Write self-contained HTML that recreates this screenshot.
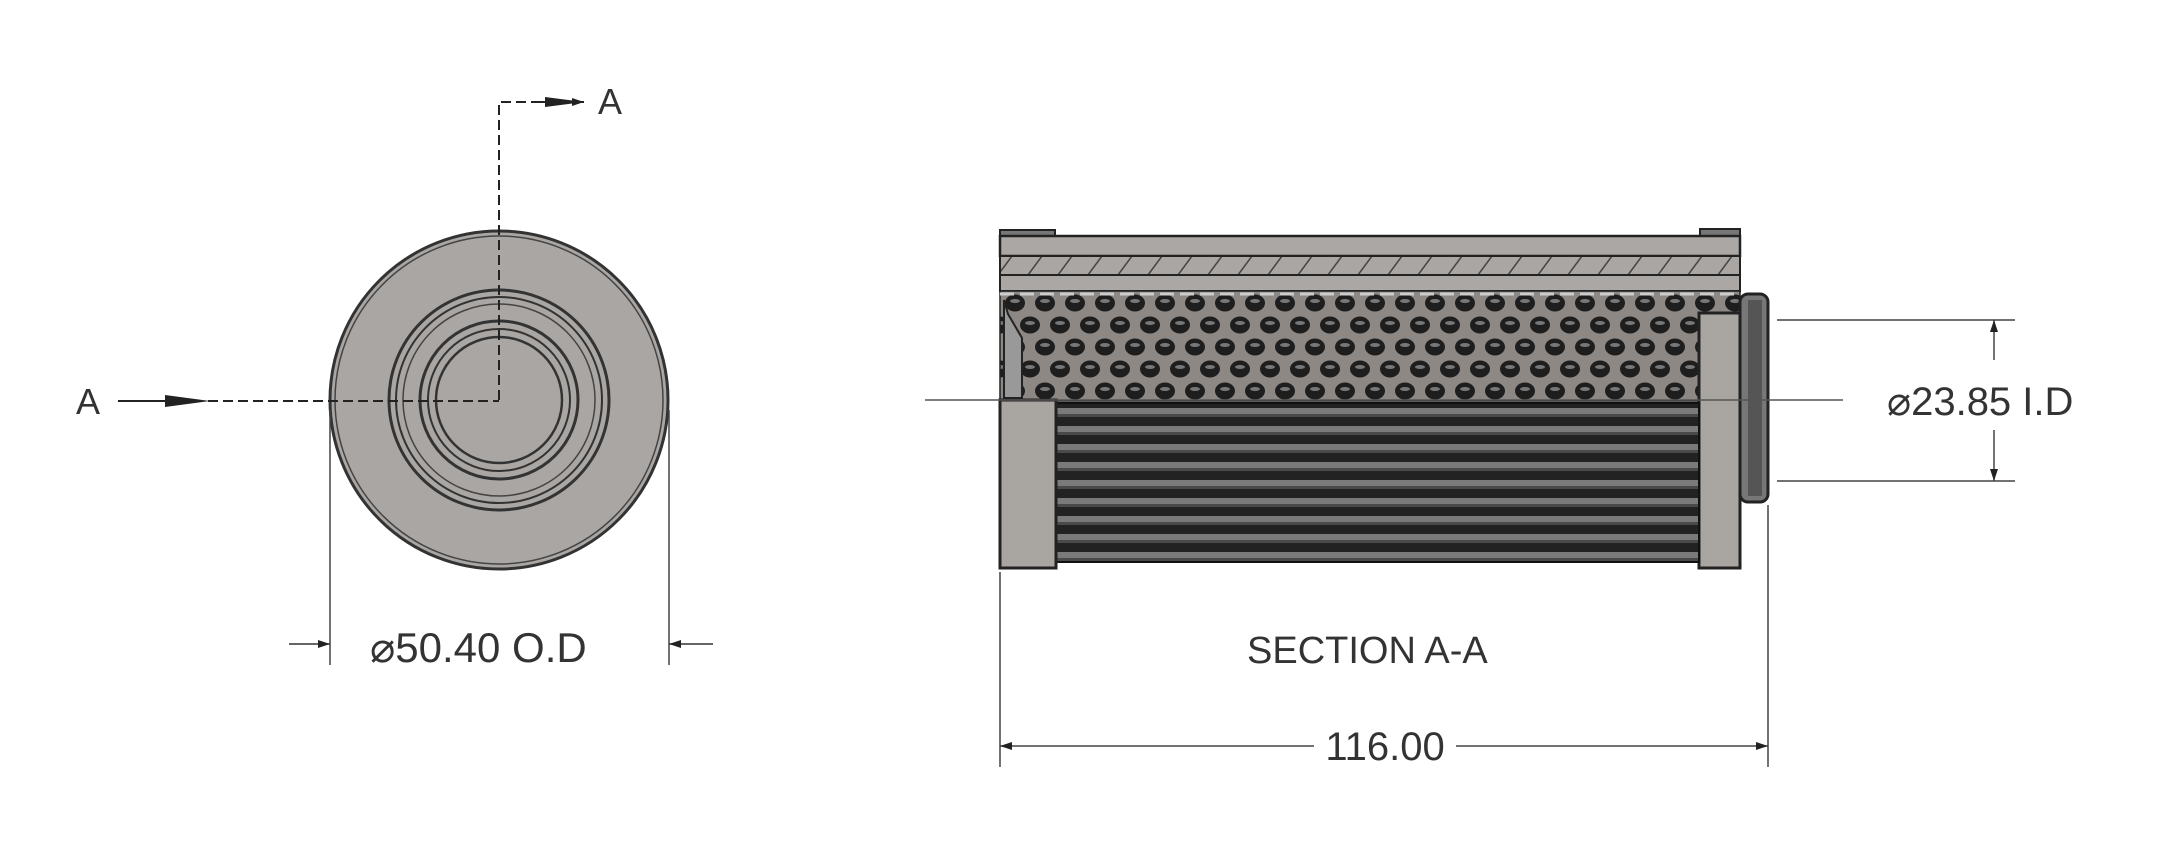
<!DOCTYPE html>
<html><head><meta charset="utf-8"><style>
html,body{margin:0;padding:0;background:#fff;}
svg{display:block;}
text{font-family:"Liberation Sans",sans-serif;fill:#333;}
</style></head><body>
<svg width="2180" height="841" viewBox="0 0 2180 841" xmlns="http://www.w3.org/2000/svg">
<defs>
<pattern id="holes" x="1000" y="292" width="30" height="44" patternUnits="userSpaceOnUse">
<rect width="30" height="44" fill="#8d8884"/>
<ellipse cx="15" cy="11" rx="10" ry="8.5" fill="#1e1e1e"/>
<ellipse cx="0" cy="33" rx="10" ry="8.5" fill="#1e1e1e"/>
<ellipse cx="30" cy="33" rx="10" ry="8.5" fill="#1e1e1e"/>
<ellipse cx="15" cy="9" rx="5" ry="2" fill="#777"/>
<ellipse cx="0" cy="31" rx="5" ry="2" fill="#777"/>
<ellipse cx="30" cy="31" rx="5" ry="2" fill="#777"/>
</pattern>
<pattern id="pleat" x="0" y="405" width="20" height="18" patternUnits="userSpaceOnUse">
<rect width="20" height="18" fill="#222"/>
<rect y="3" width="20" height="6" fill="#7a7a7a"/>
<rect y="9" width="20" height="3" fill="#4a4a4a"/>
</pattern>
<pattern id="hatch" x="0" y="256" width="30" height="19" patternUnits="userSpaceOnUse">
<rect width="30" height="19" fill="#a9a6a3"/>
<line x1="8" y1="19" x2="22" y2="0" stroke="#444" stroke-width="1.5"/>
</pattern>
<marker id="ar" markerWidth="12" markerHeight="8" refX="12" refY="4" orient="auto" markerUnits="userSpaceOnUse">
<path d="M0,0 L12,4 L0,8 z" fill="#222"/></marker>
</defs>

<!-- Left view -->
<circle cx="499" cy="400" r="169" fill="#aaa6a3" stroke="#333" stroke-width="3"/>
<circle cx="499" cy="400" r="164" fill="none" stroke="#444" stroke-width="1.5"/>
<circle cx="499" cy="400" r="110" fill="none" stroke="#333" stroke-width="3"/>
<circle cx="499" cy="400" r="103" fill="none" stroke="#333" stroke-width="2"/>
<circle cx="499" cy="400" r="96" fill="none" stroke="#444" stroke-width="1.5"/>
<circle cx="499" cy="400" r="79" fill="none" stroke="#333" stroke-width="3"/>
<circle cx="499" cy="400" r="71" fill="none" stroke="#333" stroke-width="2"/>
<circle cx="499" cy="400" r="63" fill="none" stroke="#333" stroke-width="2.5"/>
<path d="M499,400 L499,102 L560,102" fill="none" stroke="#222" stroke-width="2" stroke-dasharray="10,5"/>
<line x1="540" y1="102" x2="584" y2="102" stroke="#222" stroke-width="2" marker-end="url(#ar)"/>
<polygon points="545,97 584,102 545,107" fill="#222"/>
<text x="598" y="114" font-size="36">A</text>
<path d="M208,401 L499,401" fill="none" stroke="#222" stroke-width="2" stroke-dasharray="10,5"/>
<line x1="118" y1="401" x2="175" y2="401" stroke="#222" stroke-width="2"/>
<polygon points="165,395 210,401 165,407" fill="#222"/>
<text x="76" y="414" font-size="36">A</text>
<line x1="330" y1="410" x2="330" y2="665" stroke="#444" stroke-width="1.5"/>
<line x1="669" y1="410" x2="669" y2="665" stroke="#444" stroke-width="1.5"/>
<line x1="289" y1="644" x2="330" y2="644" stroke="#333" stroke-width="1.5" marker-end="url(#ar)"/>
<line x1="713" y1="644" x2="669" y2="644" stroke="#333" stroke-width="1.5" marker-end="url(#ar)"/>
<text x="370" y="662" font-size="42" fill="#333">⌀50.40 O.D</text>

<!-- Section view -->
<rect x="1000" y="230" width="55" height="10" fill="#777" stroke="#222" stroke-width="2"/>
<rect x="1700" y="229" width="40" height="12" fill="#777" stroke="#222" stroke-width="2"/>
<rect x="1000" y="236" width="740" height="20" fill="#aaa7a4" stroke="#222" stroke-width="2.5"/>
<rect x="1000" y="256" width="740" height="19" fill="url(#hatch)" stroke="#222" stroke-width="2"/>
<rect x="1000" y="275" width="740" height="16" fill="#aaa7a4" stroke="#222" stroke-width="2"/>
<rect x="1000" y="291" width="740" height="110" fill="url(#holes)" stroke="#222" stroke-width="1.5"/>
<line x1="1000" y1="294" x2="1740" y2="294" stroke="#ccc" stroke-width="3" stroke-dasharray="14,6"/>
<path d="M1004,300 L1004,398 L1022,398 L1022,338 L1008,314 Z" fill="#999" stroke="#222" stroke-width="2"/>
<rect x="1740" y="294" width="28" height="208" rx="8" fill="#777" stroke="#222" stroke-width="3"/>
<rect x="1748" y="300" width="14" height="196" fill="#555"/>
<rect x="1699" y="313" width="41" height="255" fill="#a9a5a1" stroke="#222" stroke-width="3"/>
<rect x="1055" y="403" width="644" height="159" fill="url(#pleat)" stroke="#111" stroke-width="2"/>
<rect x="1000" y="400" width="56" height="168" fill="#a9a5a1" stroke="#222" stroke-width="3"/>

<line x1="925" y1="400" x2="1843" y2="400" stroke="#555" stroke-width="1.5"/>
<line x1="1777" y1="320" x2="2015" y2="320" stroke="#444" stroke-width="1.5"/>
<line x1="1777" y1="481" x2="2015" y2="481" stroke="#444" stroke-width="1.5"/>
<line x1="1994" y1="360" x2="1994" y2="320" stroke="#444" stroke-width="1.5" marker-end="url(#ar)"/>
<line x1="1994" y1="430" x2="1994" y2="481" stroke="#444" stroke-width="1.5" marker-end="url(#ar)"/>
<text x="1887" y="415" font-size="40" fill="#333">⌀23.85 I.D</text>

<text x="1247" y="663" font-size="38" fill="#333">SECTION A-A</text>
<line x1="1000" y1="572" x2="1000" y2="767" stroke="#444" stroke-width="1.5"/>
<line x1="1768" y1="505" x2="1768" y2="767" stroke="#444" stroke-width="1.5"/>
<line x1="1314" y1="746" x2="1000" y2="746" stroke="#444" stroke-width="1.5" marker-end="url(#ar)"/>
<line x1="1456" y1="746" x2="1768" y2="746" stroke="#444" stroke-width="1.5" marker-end="url(#ar)"/>
<text x="1385" y="760" font-size="40" text-anchor="middle" fill="#333">116.00</text>
</svg>
</body></html>
